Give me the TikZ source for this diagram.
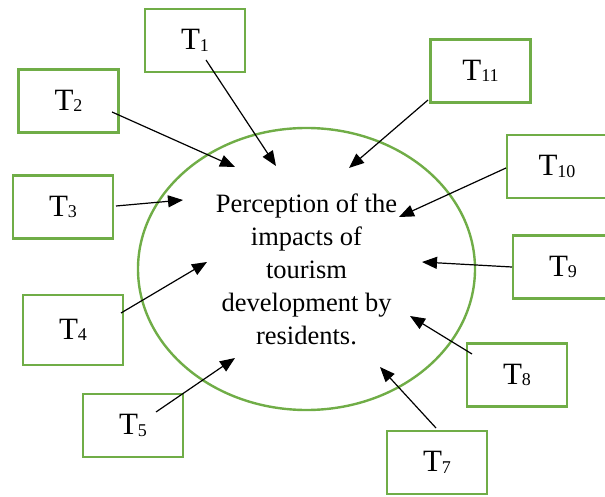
\documentclass[tikz,border=0pt]{standalone}
\usepackage{fontspec}
\setmainfont{Liberation Serif}
\usetikzlibrary{arrows.meta,shapes.geometric}
\definecolor{leafgreen}{HTML}{70AD47}
\newcommand{\tlab}[1]{T\raisebox{-1.5pt}{\fontsize{18}{18}\selectfont #1}}

\begin{document}
\begin{tikzpicture}[
  x=1pt,y=-1pt,
  >={Triangle[length=15pt,width=12pt]},
  factor/.style={draw=leafgreen,line width=2.4pt,minimum width=100pt,minimum height=63pt,
    inner sep=0pt,font=\fontsize{31}{31}\selectfont},
  core/.style={ellipse,draw=leafgreen,line width=2.4pt,minimum width=337pt,minimum height=282pt,
    inner sep=0pt,align=center,font=\fontsize{26.5}{33}\selectfont},
  arr/.style={->,line width=1.2pt}
]
\useasboundingbox (0,0) rectangle (605,497);
\node[core] (perc) at (306.5,269) {Perception of the\\impacts of\\tourism\\development by\\residents.};

\node[factor] (t1) at (195,40.5) {\tlab{1}};
\node[factor] (t2) at (68.5,101) {\tlab{2}};
\node[factor] (t3) at (63,207) {\tlab{3}};
\node[factor,minimum height=70pt] (t4) at (73,330) {\tlab{4}};
\node[factor] (t5) at (133,425.5) {\tlab{5}};
\node[factor] (t7) at (437,462.5) {\tlab{7}};
\node[factor] (t8) at (517,375) {\tlab{8}};
\node[factor] (t9) at (563,267) {\tlab{9}};
\node[factor] (t10) at (557,166.5) {\tlab{10}};
\node[factor] (t11) at (480.5,71) {\tlab{11}};

% arrow heads inside the ellipse
\coordinate (h1) at (276,166);
\coordinate (h2) at (235,167);
\coordinate (h3) at (183,200);
\coordinate (h4) at (207,262);
\coordinate (h5) at (235,358);
\coordinate (h7) at (380,367);
\coordinate (h8) at (410,316);
\coordinate (h9) at (422,262);
\coordinate (h10) at (399,217);
\coordinate (h11) at (349,168);

\draw[arr] ([shift={(11,19.5)}]t1.center)--(h1);
\draw[arr] ([shift={(43.5,11)}]t2.center)--(h2);
\draw[arr] ([shift={(53,-1)}]t3.center)--(h3);
\draw[arr] ([shift={(48,-17)}]t4.center)--(h4);
\draw[arr] ([shift={(23,-13.5)}]t5.center)--(h5);
\draw[arr] ([shift={(-1,-34.5)}]t7.center)--(h7);
\draw[arr] ([shift={(-45,-21)}]t8.center)--(h8);
\draw[arr] ([shift={(-51,0)}]t9.center)--(h9);
\draw[arr] ([shift={(-51,1.5)}]t10.center)--(h10);
\draw[arr] ([shift={(-52.5,29)}]t11.center)--(h11);
\end{tikzpicture}
\end{document}
